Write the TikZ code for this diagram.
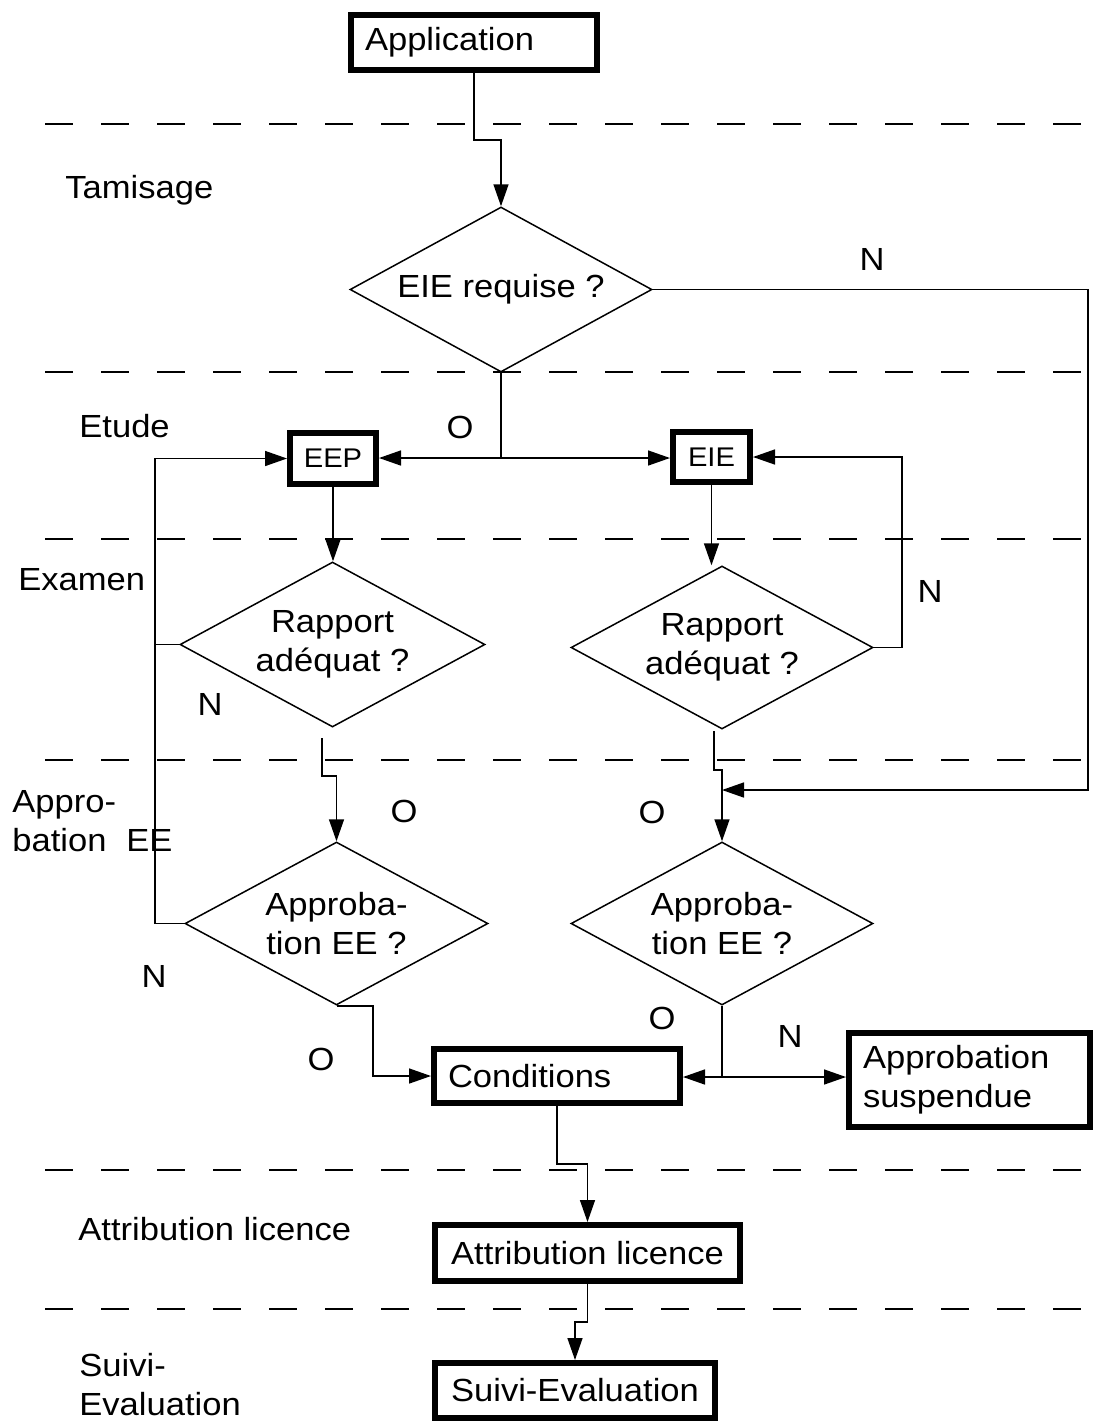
\documentclass[tikz,border=0pt]{standalone}
\usepackage{fontspec}
\setmainfont{Liberation Sans}[FakeStretch=1.08]
\usetikzlibrary{shapes.geometric,arrows.meta}
\begin{document}
\begin{tikzpicture}[x=0.5pt,y=-0.5pt]
\tikzset{
  every node/.style={font=\fontsize{16}{19.3}\selectfont},
  lane/.style={line width=0.75pt, dash pattern=on 14pt off 14pt},
  link/.style={line width=0.75pt},
  arr/.style={link, -{Triangle[length=11pt,width=7.5pt]}},
  stepbox/.style={draw, line width=3pt, inner xsep=7pt, inner ysep=0pt, align=left},
  smallbox/.style={stepbox, inner xsep=1pt, font=\fontsize{13.5}{16}\selectfont},
  decision/.style={draw, diamond, line width=0.75pt, inner sep=0pt, align=center, aspect=1.85},
  lanelabel/.style={anchor=base west, align=left, inner sep=0pt},
  answer/.style={inner sep=0pt}
}
\useasboundingbox (0,0) rectangle (1093,1421);

% swim-lane separators
\foreach \y in {124,372,539,760,1170,1309}
  \draw[lane] (45,\y) -- (1093,\y);

% lane titles (base = baseline of the last line)
\node[lanelabel] (lt) at (65,198) {Tamisage};
\node[lanelabel] (le) at (79,437) {Etude};
\node[lanelabel] (lx) at (18,590) {Examen};
\node[lanelabel] (la) at (12,851) {Appro-\\bation\hspace{0.62em}EE};
\node[lanelabel] (ll) at (78,1240) {Attribution licence};
\node[lanelabel] (ls) at (79,1415) {Suivi-\\Evaluation};

% process steps
\node[stepbox, text width=109pt, minimum height=27.5pt] (app) at (474,42.5) {Application};
\node[smallbox, minimum width=43pt, minimum height=25.5pt] (eep) at (333,458.5) {EEP};
\node[smallbox, minimum width=38.5pt, minimum height=25pt] (eie) at (711.5,457) {EIE};
\node[stepbox, text width=109pt, minimum height=27pt] (cond) at (557,1076) {Conditions};
\node[stepbox, text width=106.5pt, minimum height=47pt] (susp) at (969.5,1080) {Approbation\\suspendue};
\node[stepbox, minimum width=152.5pt, minimum height=28pt] (attr) at (587.5,1253) {Attribution licence};
\node[stepbox, minimum width=140pt, minimum height=27.5pt] (suivi) at (575,1390.5) {Suivi-Evaluation};

% decisions
\node[decision, minimum width=151pt, minimum height=82.5pt] (d1) at (501,289.5) {EIE requise ?};
\node[decision, minimum width=152.5pt, minimum height=82.5pt] (d2) at (332.5,644.5) {Rapport\\adéquat ?};
\node[decision, minimum width=151pt, minimum height=81.5pt] (d3) at (722,647.5) {Rapport\\adéquat ?};
\node[decision, minimum width=151.5pt, minimum height=81.5pt] (d4) at (336.5,923.5) {Approba-\\tion EE ?};
\node[decision, minimum width=151pt, minimum height=81.5pt] (d5) at (722,923.5) {Approba-\\tion EE ?};

% answers on the branches
\node[answer] (n1) at (872,259) {N};
\node[answer] (o1) at (460,427) {O};
\node[answer] (n2) at (210,704) {N};
\node[answer] (n3) at (930,591) {N};
\node[answer] (o2) at (404,811) {O};
\node[answer] (o3) at (652,812) {O};
\node[answer] (n4) at (154,976) {N};
\node[answer] (o4) at (321,1059) {O};
\node[answer] (o5) at (662,1018) {O};
\node[answer] (n5) at (790,1036) {N};

% routing points
\coordinate (j1) at (501,140);
\coordinate (rc) at (1088,790);
\coordinate (m5) at (722,790);
\coordinate (s1) at (501,458);
\coordinate (l1) at (155,458.5);
\coordinate (j2a) at (322,738);
\coordinate (j2b) at (336.5,776);
\coordinate (r2) at (902,457);
\coordinate (j3a) at (714,731);
\coordinate (j3b) at (722,770);
\coordinate (c1) at (373,1076);
\coordinate (s5) at (722,1077);
\coordinate (j6) at (587.5,1164);
\coordinate (j7) at (575,1322);

% connectors
\draw[arr] (app.south) |- (j1) -- (d1.north);
\draw[arr] (d1.east) -| (rc) -- (m5);
\draw[link] (d1.south) -- (s1);
\draw[arr] (s1) -- (s1 -| eep.east);
\draw[arr] (s1) -- (s1 -| eie.west);
\draw[arr] (eep.south) -- (eep.south |- d2.north);
\draw[link] (d2.west) -- (d2.west -| l1);
\draw[arr] (d4.west) -| (l1) -- (eep.west);
\draw[arr] (j2a) |- (j2b) -- (d4.north);
\draw[arr] (d4.south) -| (c1) -- (cond.west);
\draw[arr] (eie.south) -- (eie.south |- d3.north);
\draw[arr] (d3.east) -| (r2) -- (eie.east);
\draw[arr] (j3a) |- (j3b) -- (d5.north);
\draw[link] (d5.south) -- (s5);
\draw[arr] (s5) -- (s5 -| cond.east);
\draw[arr] (s5) -- (s5 -| susp.west);
\draw[arr] (cond.south) |- (j6) -- (attr.north);
\draw[arr] (attr.south) |- (j7) -- (suivi.north);
\end{tikzpicture}
\end{document}
